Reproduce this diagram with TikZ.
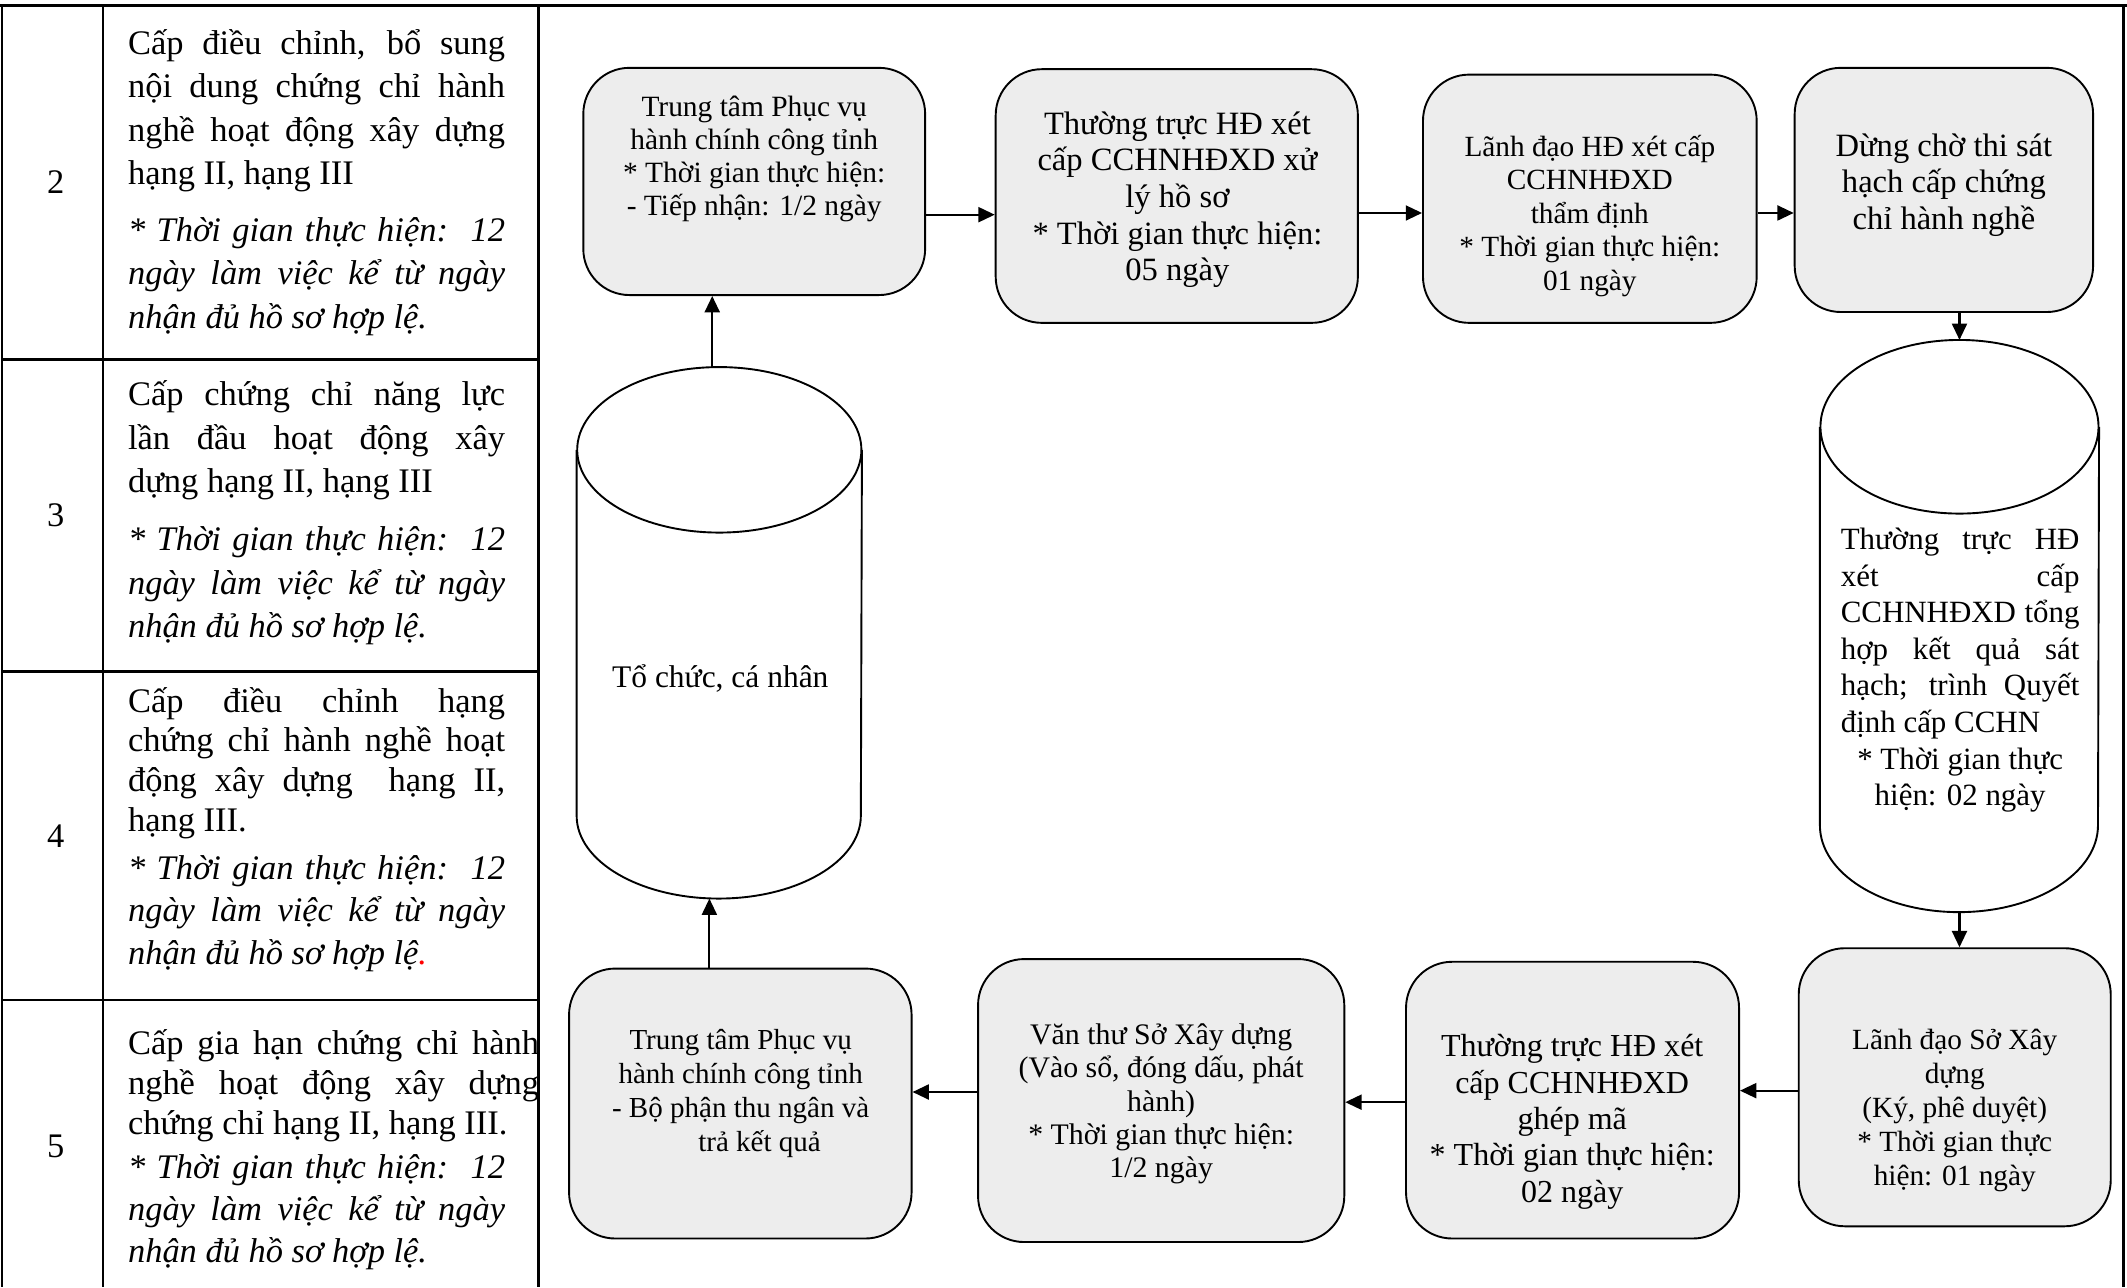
\documentclass[tikz,border=0pt]{standalone}
\usepackage{fontspec}
\setmainfont{Liberation Serif}
\usetikzlibrary{arrows.meta}
\definecolor{boxgray}{HTML}{EDEDED}
\newlength{\tw}\setlength{\tw}{139pt}
\newlength{\twb}\setlength{\twb}{151.5pt}
\newcommand{\jl}[2]{\hbox to #1{#2}}
\newcommand{\ctl}[2]{\hbox to #1{\hfil#2\hfil}}
\newcommand{\plines}[2]{\vtop{\lineskiplimit=-100pt\baselineskip=#1\relax#2}}
\newcommand{\clines}[2]{\vtop{\lineskiplimit=-100pt\baselineskip=#1\relax\halign{\hfil##\hfil\cr#2\crcr}}}
\tikzset{
  proc/.style={draw=black, line width=0.7pt, fill=boxgray, rounded corners=17pt, inner sep=0pt},
  txt/.style={inner sep=0pt, anchor=base},
  tabtxt/.style={inner sep=0pt, anchor=base west, font=\fontsize{12.7}{16}\selectfont},
  tabit/.style={inner sep=0pt, anchor=base west, font=\fontsize{12.7}{16}\selectfont\itshape},
  arr/.style={line width=0.8pt, -{Triangle[length=6pt,width=5.5pt]}},
  cylline/.style={line width=0.7pt},
  gridline/.style={line width=0.9pt},
  cylbox/.style={inner sep=0pt}
}
\begin{document}
\begin{tikzpicture}[x=0.5pt, y=-0.5pt]
\useasboundingbox (0,0) rectangle (1568,949);
\fill[white] (0,0) rectangle (1568,949);

% ---- table and frame lines ----
\draw[gridline] (0,4) -- (1568,4);
\draw[gridline] (1.5,4) -- (1.5,949);
\draw[gridline] (76,4) -- (76,949);
\draw[gridline] (397,4) -- (397,949);
\draw[gridline] (1565.5,4) -- (1565.5,949);
\draw[gridline] (1.5,265) -- (397,265);
\draw[gridline] (1.5,495) -- (397,495);
\draw[gridline] (1.5,737) -- (397,737);

% ---- row numbers ----
\node[tabtxt, anchor=base] (n2) at (41,143) {2};
\node[tabtxt, anchor=base] (n3) at (41,388) {3};
\node[tabtxt, anchor=base] (n4) at (41,625) {4};
\node[tabtxt, anchor=base] (n5) at (41,853) {5};

% ---- row texts ----
\node[tabtxt] (r2a) at (94,40) {\plines{16pt}{%
  \jl{\tw}{Cấp điều chỉnh, bổ sung}
  \jl{\tw}{nội dung chứng chỉ hành}
  \jl{\tw}{nghề hoạt động xây dựng}
  \hbox{hạng II, hạng III}}};
\node[tabit] (r2b) at (94,178) {\plines{16pt}{%
  \jl{\tw}{* Thời gian thực hiện:\ \ 12}
  \jl{\tw}{ngày làm việc kể từ ngày}
  \hbox{nhận đủ hồ sơ hợp lệ.}}};

\node[tabtxt] (r3a) at (94,299) {\plines{16pt}{%
  \jl{\tw}{Cấp chứng chỉ năng lực}
  \jl{\tw}{lần đầu hoạt động xây}
  \hbox{dựng hạng II, hạng III}}};
\node[tabit] (r3b) at (94,406) {\plines{16pt}{%
  \jl{\tw}{* Thời gian thực hiện:\ \ 12}
  \jl{\tw}{ngày làm việc kể từ ngày}
  \hbox{nhận đủ hồ sơ hợp lệ.}}};

\node[tabtxt] (r4a) at (94,525) {\plines{14.65pt}{%
  \jl{\tw}{Cấp điều chỉnh hạng}
  \jl{\tw}{chứng chỉ hành nghề hoạt}
  \jl{\tw}{động xây dựng\ \ hạng II,}
  \hbox{hạng III.}}};
\node[tabit] (r4b) at (94,648) {\plines{15.75pt}{%
  \jl{\tw}{* Thời gian thực hiện:\ \ 12}
  \jl{\tw}{ngày làm việc kể từ ngày}
  \hbox{nhận đủ hồ sơ hợp lệ\textcolor{red}{.}}}};

\node[tabtxt] (r5a) at (94,777) {\plines{14.75pt}{%
  \jl{\twb}{Cấp gia hạn chứng chỉ hành}
  \jl{\twb}{nghề hoạt động xây dựng}
  \hbox{chứng chỉ hạng II, hạng III.}}};
\node[tabit] (r5b) at (94,869) {\plines{15.5pt}{%
  \jl{\tw}{* Thời gian thực hiện:\ \ 12}
  \jl{\tw}{ngày làm việc kể từ ngày}
  \hbox{nhận đủ hồ sơ hợp lệ.}}};

% ---- process boxes ----
\node[proc, minimum width=126pt, minimum height=83.75pt] (b1) at (556,133.75) {};
\node[proc, minimum width=133.5pt, minimum height=93.5pt] (b2) at (867.5,144.5) {};
\node[proc, minimum width=123pt, minimum height=91.5pt] (b3) at (1172,146.5) {};
\node[proc, minimum width=110pt, minimum height=90pt] (b4) at (1433,140) {};
\node[proc, minimum width=115pt, minimum height=102.5pt] (b5) at (1441,801.5) {};
\node[proc, minimum width=122.75pt, minimum height=102pt] (b6) at (1159.25,811) {};
\node[proc, minimum width=135pt, minimum height=104.3pt] (b7) at (856,811.3) {};
\node[proc, minimum width=126.25pt, minimum height=99.5pt] (b8) at (545.75,813.5) {};

\node[txt, font=\fontsize{10.85}{12}\selectfont] (b1t) at (556,86) {\clines{12.15pt}{%
  Trung tâm Phục vụ\cr hành chính công tỉnh\cr * Thời gian thực hiện:\cr - Tiếp nhận: 1/2 ngày}};
\node[txt, font=\fontsize{12}{13}\selectfont] (b2t) at (868,99) {\clines{13.5pt}{%
  Thường trực HĐ xét\cr cấp CCHNHĐXD xử\cr lý hồ sơ\cr * Thời gian thực hiện:\cr 05 ngày}};
\node[txt, font=\fontsize{10.8}{12}\selectfont] (b3t) at (1172,115) {\clines{12.4pt}{%
  Lãnh đạo HĐ xét cấp\cr CCHNHĐXD\cr thẩm định\cr * Thời gian thực hiện:\cr 01 ngày}};
\node[txt, font=\fontsize{12}{13}\selectfont] (b4t) at (1433,115) {\clines{13.5pt}{%
  Dừng chờ thi sát\cr hạch cấp chứng\cr chỉ hành nghề}};
\node[txt, font=\fontsize{10.8}{12}\selectfont] (b5t) at (1441,774) {\clines{12.5pt}{%
  Lãnh đạo Sở Xây\cr dựng\cr (Ký, phê duyệt)\cr * Thời gian thực\cr hiện: 01 ngày}};
\node[txt, font=\fontsize{11.8}{13}\selectfont] (b6t) at (1159,779) {\clines{13.4pt}{%
  Thường trực HĐ xét\cr cấp CCHNHĐXD\cr ghép mã\cr * Thời gian thực hiện:\cr 02 ngày}};
\node[txt, font=\fontsize{11}{12}\selectfont] (b7t) at (856,770) {\clines{12.25pt}{%
  Văn thư Sở Xây dựng\cr (Vào sổ, đóng dấu, phát\cr hành)\cr * Thời gian thực hiện:\cr 1/2 ngày}};
\node[txt, font=\fontsize{10.7}{12}\selectfont] (b8t) at (546,774) {\clines{12.5pt}{%
  Trung tâm Phục vụ\cr hành chính công tỉnh\cr - Bộ phận thu ngân và\cr \hspace*{1.3em}trả kết quả}};

% ---- cylinders ----
\node[cylbox, minimum width=104.75pt, minimum height=195.5pt] (c1) at (530.25,466.5) {};
\draw[cylline] ([yshift=-30.5pt]c1.north west) -- ([yshift=30.5pt]c1.south west)
  arc[start angle=180, end angle=360, x radius=52.375pt, y radius=30.5pt]
  -- ([yshift=-30.5pt]c1.north east);
\draw[cylline] ([yshift=-30.5pt]c1.north) ellipse [x radius=52.375pt, y radius=30.5pt];
\node[txt, font=\fontsize{11.6}{13}\selectfont] (c1t) at (531,507) {Tổ chức, cá nhân};

\node[cylbox, minimum width=102.5pt, minimum height=210.5pt] (c2) at (1444.5,461.5) {};
\draw[cylline] ([yshift=-32pt]c2.north west) -- ([yshift=32pt]c2.south west)
  arc[start angle=180, end angle=360, x radius=51.25pt, y radius=32pt]
  -- ([yshift=-32pt]c2.north east);
\draw[cylline] ([yshift=-32pt]c2.north) ellipse [x radius=51.25pt, y radius=32pt];
\node[txt, font=\fontsize{11.4}{13}\selectfont] (c2t) at (1445,405) {\plines{13.5pt}{%
  \jl{88pt}{Thường trực HĐ}
  \jl{88pt}{xét cấp}
  \jl{88pt}{CCHNHĐXD tổng}
  \jl{88pt}{hợp kết quả sát}
  \jl{88pt}{hạch; trình Quyết}
  \hbox to 88pt{định cấp CCHN\hfil}
  \ctl{88pt}{* Thời gian thực}
  \ctl{88pt}{hiện: 02 ngày}}};

% ---- connectors ----
\coordinate (p1) at ([yshift=-12.25pt]b1.east);
\draw[arr] (p1) -- (p1 -| b2.west);
\coordinate (p2) at ([yshift=-6.25pt]b2.east);
\draw[arr] (p2) -- (p2 -| b3.west);
\coordinate (p3) at ([yshift=-5.25pt]b3.east);
\draw[arr] (p3) -- (p3 -| b4.west);
\draw[arr] (c2.north |- b4.south) -- (c2.north);
\draw[arr] (c2.south) -- (c2.south |- b5.north);
\coordinate (p5) at ([yshift=-1.25pt]b5.west);
\draw[arr] (p5) -- (p5 -| b6.east);
\coordinate (p6) at ([yshift=-0.75pt]b6.west);
\draw[arr] (p6) -- (p6 -| b7.east);
\coordinate (p7) at ([yshift=3.15pt]b7.west);
\draw[arr] (p7) -- (p7 -| b8.east);
\coordinate (p8) at ([xshift=-11.4pt]b8.north);
\draw[arr] (p8) -- (p8 |- c1.south);
\coordinate (p9) at ([xshift=-2.6pt]c1.north);
\draw[arr] (p9) -- (p9 |- b1.south);
\end{tikzpicture}
\end{document}
